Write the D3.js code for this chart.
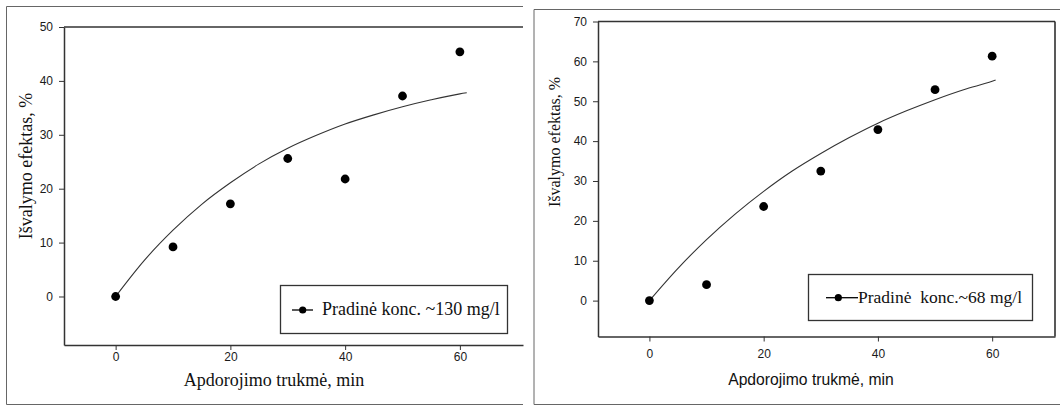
<!DOCTYPE html>
<html>
<head>
<meta charset="utf-8">
<script src="https://cdn.jsdelivr.net/npm/d3@7"></script>
<style>
  html, body { margin: 0; padding: 0; background: #fff; }
  svg { display: block; }
  .serif { font-family: "Liberation Serif", "Times New Roman", Times, serif; }
  .sans { font-family: "Liberation Sans", Arial, Helvetica, sans-serif; }
</style>
</head>
<body>
<script>
// measured points (minutes vs cleaning effect, %)
const minutes = [0, 10, 20, 30, 40, 50, 60];
const effect130 = [0, 9.2, 17.2, 25.6, 21.8, 37.2, 45.4];
const effect68 = [0, 4.0, 23.6, 32.5, 42.9, 52.9, 61.3];

// regression curves
const fitMinutes130 = [0, 5, 10, 15, 20, 25, 30, 35, 40, 45, 50, 55, 60, 61.2];
const fit130 = [0, 6.7, 12.3, 17.1, 21.1, 24.6, 27.5, 29.9, 32.0, 33.7, 35.2, 36.5, 37.6, 37.8];
const fitMinutes68 = [0, 5, 10, 15, 20, 25, 30, 35, 40, 45, 50, 55, 60, 60.6];
const fit68 = [0, 8.1, 15.3, 21.7, 27.4, 32.5, 36.9, 40.9, 44.5, 47.6, 50.4, 52.9, 55.0, 55.3];

const xTicks = [0, 20, 40, 60];
const yTicks130 = [0, 10, 20, 30, 40, 50];
const yTicks68 = [0, 10, 20, 30, 40, 50, 60, 70];

const legend130 = "Pradinė konc. ~130 mg/l";
const legend68 = "Pradinė\u00a0 konc.~68 mg/l";
const xTitle = "Apdorojimo trukmė, min";
const yTitle = "Išvalymo efektas, %";

const W = 1060, H = 405;

const svg = d3.select("body").append("svg")
  .attr("width", W)
  .attr("height", H);

function drawPanel(p) {
  const g = svg.append("g");

  // outer frame of the panel
  g.append("path")
    .attr("d", p.frame)
    .attr("fill", "none")
    .attr("stroke", "#666")
    .attr("stroke-width", 1);

  const x = d3.scaleLinear().domain([-9, 71]).range([p.left, p.right]);
  const y = d3.scaleLinear().domain(p.yDomain).range([p.bottom, p.top]);

  // top (and right) plot border
  g.append("line")
    .attr("x1", p.left).attr("x2", p.right)
    .attr("y1", p.top).attr("y2", p.top)
    .attr("stroke", "#333").attr("stroke-width", 1.5);
  if (p.rightBorder) {
    g.append("line")
      .attr("x1", p.right).attr("x2", p.right)
      .attr("y1", p.top).attr("y2", p.bottom)
      .attr("stroke", "#222").attr("stroke-width", 1.5);
  }

  const xAxis = g.append("g")
    .attr("transform", `translate(0,${p.bottom})`)
    .call(d3.axisBottom(x).tickValues(xTicks).tickSize(5).tickPadding(p.xPad).tickSizeOuter(0));
  const yAxis = g.append("g")
    .attr("transform", `translate(${p.left},0)`)
    .call(d3.axisLeft(y).tickValues(p.yTicks).tickSize(5).tickPadding(6).tickSizeOuter(0));

  [xAxis, yAxis].forEach(a => {
    a.attr("font-family", null).attr("font-size", null);
    a.select(".domain").attr("stroke", "#333").attr("stroke-width", 1.5);
    a.selectAll(".tick line").attr("stroke", "#333");
    a.selectAll(".tick text")
      .attr("class", "sans")
      .style("font-size", "12px")
      .attr("fill", "#1a1a1a");
  });

  // fitted curve
  const line = d3.line()
    .x(d => x(d[0]))
    .y(d => y(d[1]))
    .curve(d3.curveMonotoneX);
  g.append("path")
    .datum(d3.zip(p.fitX, p.fitY))
    .attr("d", line)
    .attr("fill", "none")
    .attr("stroke", "#333")
    .attr("stroke-width", 1.1);

  // data points
  g.selectAll("circle.pt")
    .data(d3.zip(minutes, p.values))
    .join("circle")
    .attr("class", "pt")
    .attr("cx", d => x(d[0]))
    .attr("cy", d => y(d[1]))
    .attr("r", 4.4)
    .attr("fill", "#000");

  // legend
  const L = p.legend;
  g.append("rect")
    .attr("x", L.x).attr("y", L.y)
    .attr("width", L.w).attr("height", L.h)
    .attr("fill", "#fff")
    .attr("stroke", "#333")
    .attr("stroke-width", 1.3);
  g.append("line")
    .attr("x1", L.lx1).attr("x2", L.lx2)
    .attr("y1", L.ly).attr("y2", L.ly)
    .attr("stroke", "#000").attr("stroke-width", 1.3);
  g.append("circle")
    .attr("cx", (L.dot)).attr("cy", L.ly)
    .attr("r", 3.6).attr("fill", "#000");
  g.append("text")
    .attr("class", "serif")
    .attr("x", L.tx).attr("y", L.ly + 5)
    .style("font-size", L.size + "px")
    .attr("fill", "#111")
    .text(p.legendText);

  // axis titles
  g.append("text")
    .attr("class", p.xTitle.font)
    .attr("x", p.xTitle.x).attr("y", p.xTitle.y)
    .attr("text-anchor", "middle")
    .style("font-size", p.xTitle.size + "px")
    .attr("fill", "#111")
    .text(xTitle);
  g.append("text")
    .attr("class", "serif")
    .attr("transform", `translate(${p.yTitle.x},${p.yTitle.y}) rotate(-90)`)
    .attr("text-anchor", "middle")
    .style("font-size", p.yTitle.size + "px")
    .attr("fill", "#111")
    .text(yTitle);
}

drawPanel({
  frame: "M523,6.5 H6.5 V404.5 H523",
  left: 64, right: 523, top: 27, bottom: 345,
  yDomain: [-9, 50], yTicks: yTicks130, xPad: 2,
  rightBorder: false,
  fitX: fitMinutes130, fitY: fit130, values: effect130,
  legendText: legend130,
  legend: { x: 280.5, y: 285.5, w: 227, h: 48, lx1: 292, lx2: 313, dot: 302.7, ly: 310, tx: 322, size: 18 },
  xTitle: { x: 274, y: 386, size: 18, font: "serif" },
  yTitle: { x: 32, y: 166, size: 18 }
});

drawPanel({
  frame: "M1060,9.5 H534 V404.5 H1060",
  left: 598, right: 1055, top: 21.5, bottom: 336.5,
  yDomain: [-9, 70], yTicks: yTicks68, xPad: 8,
  rightBorder: true,
  fitX: fitMinutes68, fitY: fit68, values: effect68,
  legendText: legend68,
  legend: { x: 808.5, y: 274.5, w: 224, h: 46, lx1: 826, lx2: 858, dot: 838.3, ly: 297.7, tx: 858, size: 17.5 },
  xTitle: { x: 811, y: 385, size: 15.7, font: "sans" },
  yTitle: { x: 560, y: 142, size: 16 }
});
</script>
</body>
</html>
